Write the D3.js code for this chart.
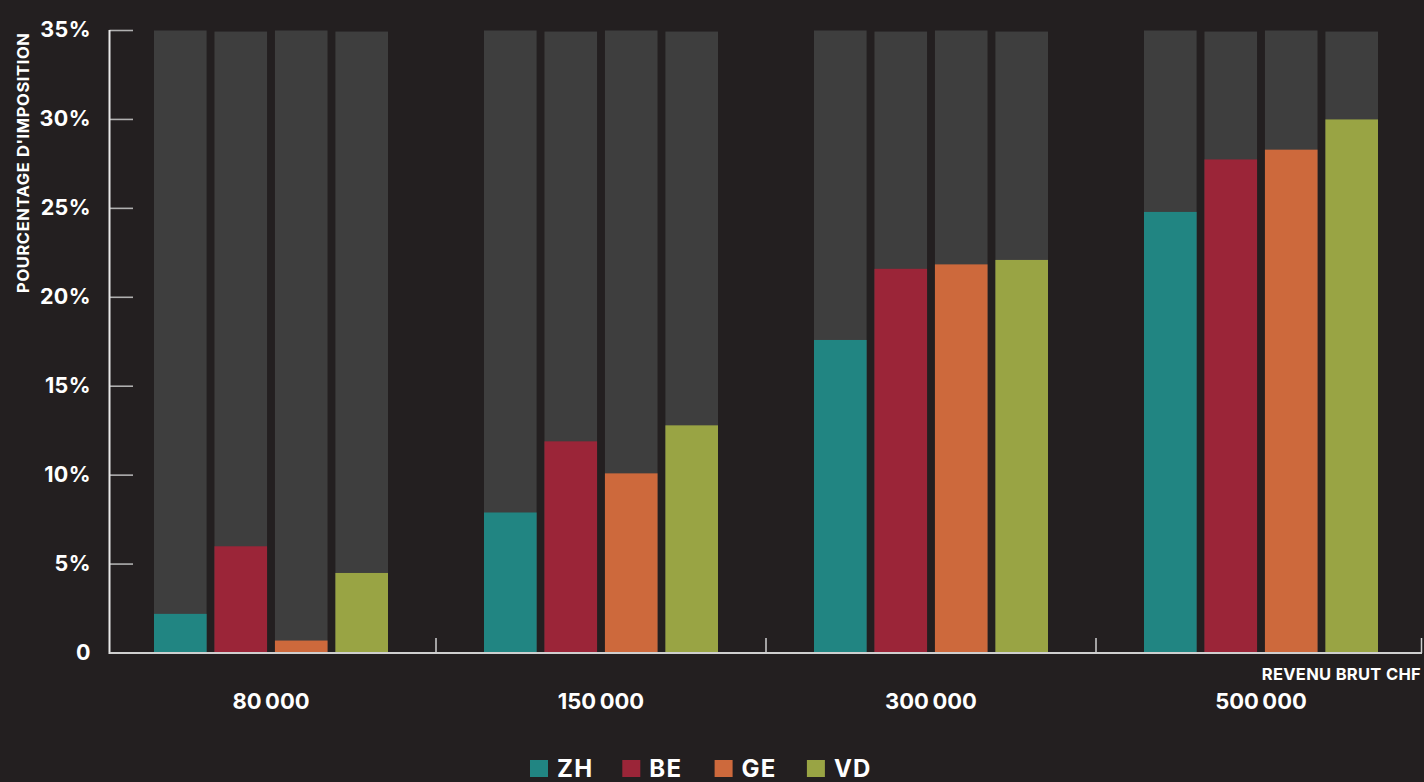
<!DOCTYPE html>
<html>
<head>
<meta charset="utf-8">
<script src="https://cdn.jsdelivr.net/npm/d3@7"></script>
<style>
  html, body { margin: 0; padding: 0; background: #231f20; }
  svg { display: block; }
  text { font-family: "Inter", "Noto Sans", sans-serif; font-weight: 700; fill: #ffffff; }
</style>
</head>
<body>
<svg id="chart" width="1424" height="782"></svg>
<script>
// Revenus bruts (CHF) et cantons
const incomes = ["80000", "150000", "300000", "500000"];
const incomeLabels = ["80\u202F000", "150\u202F000", "300\u202F000", "500\u202F000"];
const cantons = ["ZH", "BE", "GE", "VD"];
const cantonColors = ["#218582", "#9b2538", "#cd693c", "#99a444"];

// Taux d'imposition (%) par canton, pour chaque revenu
const rateZH = [2.2, 7.9, 17.6, 24.8];
const rateBE = [6.0, 11.9, 21.6, 27.75];
const rateGE = [0.7, 10.1, 21.85, 28.3];
const rateVD = [4.5, 12.8, 22.1, 30.0];
const rates = [rateZH, rateBE, rateGE, rateVD];

// Échelle verticale et graduations
const yMax = 35;
const yTicks = [0, 5, 10, 15, 20, 25, 30, 35];
const yTickLabels = ["0", "5%", "10%", "15%", "20%", "25%", "30%", "35%"];

const svg = d3.select("#chart");
const W = 1424, H = 782;
const axisX = 109.5, plotRight = 1422, plotTop = 30.5, plotBottom = 653;

const y = d3.scaleLinear().domain([0, yMax]).range([plotBottom, plotTop]);
const x0 = d3.scaleBand().domain(incomes).range([106, 1426]).paddingInner(0).paddingOuter(0);
const groupWidth = 234;
const x1 = d3.scaleBand().domain(cantons).range([-groupWidth / 2, groupWidth / 2]).paddingInner(0.13);

const rows = incomes.map((inc, i) => ({
  income: inc,
  values: cantons.map((c, j) => ({ canton: c, value: rates[j][i], color: cantonColors[j] }))
}));

// Barres : fond gris jusqu'à 35 %, puis valeur colorée
const groups = svg.append("g").selectAll("g")
  .data(rows).join("g")
  .attr("transform", d => `translate(${x0(d.income) + x0.bandwidth() / 2},0)`);

groups.selectAll("rect.bg")
  .data(d => d.values).join("rect")
  .attr("class", "bg")
  .attr("x", d => x1(d.canton))
  .attr("width", x1.bandwidth())
  .attr("y", (d, j) => y(j % 2 ? yMax - 0.06 : yMax))
  .attr("height", (d, j) => y(0) - y(j % 2 ? yMax - 0.06 : yMax))
  .attr("fill", "#3e3e3e");

groups.selectAll("rect.val")
  .data(d => d.values).join("rect")
  .attr("class", "val")
  .attr("x", d => x1(d.canton))
  .attr("width", x1.bandwidth())
  .attr("y", d => y(d.value))
  .attr("height", d => y(0) - y(d.value))
  .attr("fill", d => d.color);

// Axe vertical
const yAxis = svg.append("g");
yAxis.selectAll("line.tick")
  .data(yTicks).join("line")
  .attr("class", "tick")
  .attr("x1", axisX).attr("x2", axisX + 23.5)
  .attr("y1", d => y(d)).attr("y2", d => y(d))
  .attr("stroke", "#b0b0b0").attr("stroke-width", 1.6);
yAxis.append("line")
  .attr("x1", axisX).attr("x2", axisX)
  .attr("y1", y(yMax) - 0.5).attr("y2", y(0) + 1)
  .attr("stroke", "#e8e8e8").attr("stroke-width", 2);
yAxis.selectAll("text")
  .data(yTicks).join("text")
  .attr("x", 91)
  .attr("y", d => y(d) + 6.5)
  .attr("text-anchor", "end")
  .attr("font-size", 21.5)
  .attr("letter-spacing", 0.4)
  .text((d, i) => yTickLabels[i]);

svg.append("text")
  .attr("transform", `translate(29,${(plotTop + 295) / 2}) rotate(-90)`)
  .attr("text-anchor", "middle")
  .attr("font-size", 16.5)
  .attr("letter-spacing", 0.6)
  .text("POURCENTAGE D'IMPOSITION");

// Axe horizontal
svg.append("line")
  .attr("x1", axisX).attr("x2", plotRight)
  .attr("y1", plotBottom).attr("y2", plotBottom)
  .attr("stroke", "#cfcfcf").attr("stroke-width", 2);
svg.selectAll("line.sep")
  .data(incomes.slice(1).concat(["end"])).join("line")
  .attr("class", "sep")
  .attr("x1", (d, i) => Math.min(x0.range()[0] + x0.step() * (i + 1), W - 2.5))
  .attr("x2", (d, i) => Math.min(x0.range()[0] + x0.step() * (i + 1), W - 2.5))
  .attr("y1", plotBottom).attr("y2", plotBottom - 15)
  .attr("stroke", "#cfcfcf").attr("stroke-width", 1.5);

svg.selectAll("text.xlab")
  .data(incomes).join("text")
  .attr("class", "xlab")
  .attr("x", d => x0(d) + x0.bandwidth() / 2)
  .attr("y", 709)
  .attr("text-anchor", "middle")
  .attr("font-size", 22)
  .attr("letter-spacing", 0.3)
  .text((d, i) => incomeLabels[i]);

svg.append("text")
  .attr("x", W - 3)
  .attr("y", 680)
  .attr("text-anchor", "end")
  .attr("font-size", 16.5)
  .attr("letter-spacing", 0.3)
  .text("REVENU BRUT CHF");

// Légende
const legend = svg.append("g").attr("transform", "translate(530,760)");
const items = legend.selectAll("g")
  .data(cantons).join("g")
  .attr("transform", (d, i) => `translate(${i * 92.3},0)`);
items.append("rect")
  .attr("width", 18).attr("height", 17)
  .attr("fill", (d, i) => cantonColors[i]);
items.append("text")
  .attr("x", 27).attr("y", 17)
  .attr("font-size", 24)
  .attr("letter-spacing", 1.2)
  .text(d => d);
</script>
</body>
</html>
